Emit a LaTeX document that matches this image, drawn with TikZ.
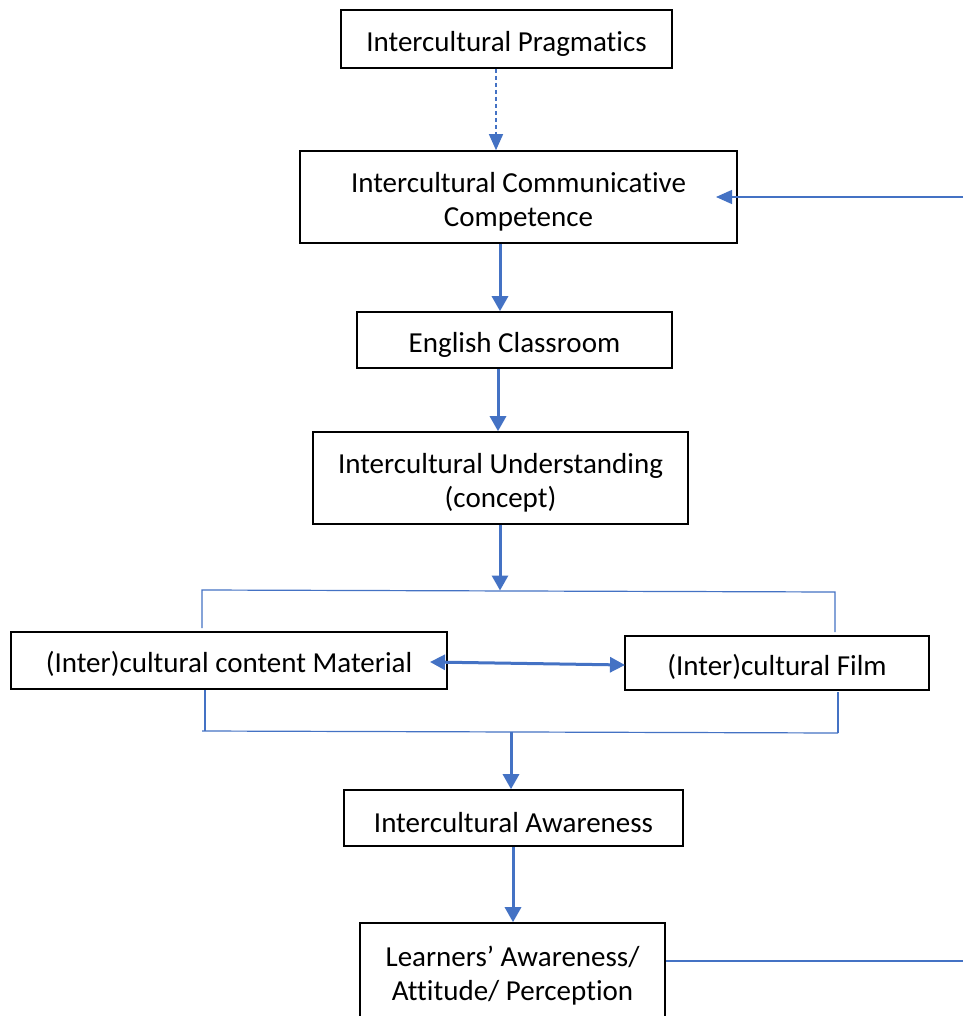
\documentclass[tikz,border=0pt]{standalone}
\usepackage{fontspec}
\setmainfont{Carlito}[Ligatures=NoCommon]
\usetikzlibrary{arrows.meta,calc}
\definecolor{flowblue}{HTML}{4472C4}
% strut that sets the first line's height, so text sits a bit lower in its box
\newcommand\firstline{\rule{0pt}{29pt}}
\tikzset{
  box/.style={draw=black, line width=1.6pt, fill=white, align=center, inner sep=0pt,
              font=\fontsize{29}{34}\selectfont},
  mainarrow/.style={draw=flowblue, line width=3pt, -{Triangle[length=15pt,width=16pt]}},
  thinarrow/.style={draw=flowblue, line width=1.3pt, -{Triangle[length=16pt,width=14pt]}},
  dasharrow/.style={draw=flowblue, line width=1.3pt, dash pattern=on 4pt off 3pt,
              -{Triangle[length=16pt,width=14pt]}},
  bracket/.style={draw=flowblue, line width=1.2pt},
  twoway/.style={draw=flowblue, line width=3pt, {Triangle[length=15pt,width=15pt]}-{Triangle[length=15pt,width=15pt]}}
}
\begin{document}
\begin{tikzpicture}[x=1pt,y=-1pt]
\useasboundingbox[fill=white] (0,0) rectangle (963,1016);

% boxes
\node[box, minimum width=331pt, minimum height=58pt] (prag) at (506.5,39) {\firstline Intercultural Pragmatics};
\node[box, minimum width=437pt, minimum height=92pt] (icc) at (518.5,197) {\firstline Intercultural Communicative\\Competence};
\node[box, minimum width=315pt, minimum height=56pt] (class) at (514.5,340) {\firstline English Classroom};
\node[box, minimum width=375pt, minimum height=92pt] (under) at (500.5,478) {\firstline Intercultural Understanding\\(concept)};
\node[box, minimum width=436pt, minimum height=57pt] (mat) at (229,660.5) {\firstline (Inter)cultural content Material};
\node[box, minimum width=304pt, minimum height=54pt] (film) at (777,663) {\firstline (Inter)cultural Film};
\node[box, minimum width=339pt, minimum height=56pt] (aware) at (513.5,818) {\firstline Intercultural Awareness};
\node[box, minimum width=305pt, minimum height=97pt] (learn) at (512.5,971.5) {\firstline Learners’ Awareness/\\Attitude/ Perception};

% helper points
\coordinate (x1) at (496,0);
\coordinate (x2) at (500,0);
\coordinate (x3) at (498,0);
\coordinate (x4) at (511,0);
\coordinate (x5) at (513,0);
\coordinate (tl) at (202,590);
\coordinate (tr) at (835,592);
\coordinate (bl) at (202,731);
\coordinate (br) at (838,733);
\coordinate (split) at (500,590.5);
\coordinate (merge) at (511,732);
\coordinate (iccin) at (716,197);
\coordinate (fb) at (963,197);
\coordinate (lout) at (963,961);
\coordinate (matin) at (430,662);
\coordinate (filmin) at (625,665);

% vertical flow
\draw[dasharrow] (prag.south -| x1) -- (icc.north -| x1);
\draw[mainarrow] (icc.south -| x2) -- (class.north -| x2);
\draw[mainarrow] (class.south -| x3) -- (under.north -| x3);
\draw[mainarrow] (under.south -| x2) -- (split);
\draw[mainarrow] (merge) -- (aware.north -| x4);
\draw[mainarrow] (aware.south -| x5) -- (learn.north -| x5);

% brackets around the two sources
\draw[bracket] (202,628) -- (tl) -- (tr) -- (835,632);
\draw[bracket] (205,690) -- (205,731);
\draw[bracket] (838,692) -- (br);
\draw[bracket] (bl) -- (br);

% link between material and film
\draw[twoway] (matin) -- (filmin);

% feedback line
\draw[thinarrow] (fb) -- (iccin);
\draw[bracket] (learn.east |- lout) -- (lout);
\end{tikzpicture}
\end{document}
